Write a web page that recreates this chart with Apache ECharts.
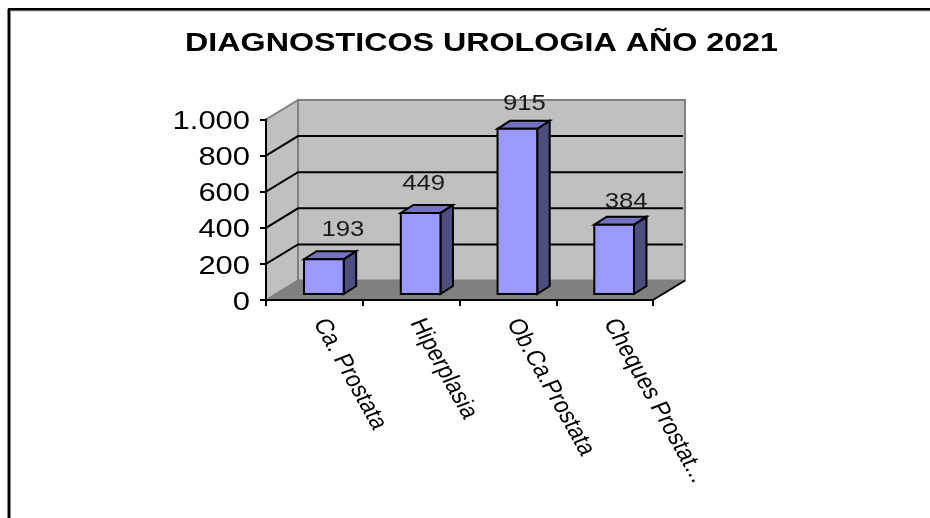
<!DOCTYPE html>
<html>
<head>
<meta charset="utf-8">
<title>Diagnosticos Urologia</title>
<style>
  html, body { margin: 0; padding: 0; background: #fff; }
  #chart-container { width: 930px; height: 518px; }
</style>
<script src="https://cdn.jsdelivr.net/npm/echarts@6/dist/echarts.min.js"></script>
</head>
<body>
<div id="chart-container"></div>
<script>
const chartTitle = 'DIAGNOSTICOS UROLOGIA AÑO 2021';
const categories = ['Ca. Prostata', 'Hiperplasia', 'Ob.Ca.Prostata', 'Cheques Prostat...'];
const values = [193, 449, 915, 384];
const gridValues = [200, 400, 600, 800];
const yTicks = [0, 200, 400, 600, 800, 1000];
const yTickLabels = ['0', '200', '400', '600', '800', '1.000'];

// fake 3d: pixel offsets from the front plane
const wallDepth = [32, -19.5];
const barShift = [9.5, -6];
const barDepth = [12.5, -8];
const labelShift = [[19, -29], [3, -29], [7, -25], [12, -23]];
const font = 'Liberation Sans, Arial, sans-serif';

function poly(points, fill, stroke, width) {
  return {
    type: 'polygon',
    shape: { points: points },
    style: { fill: fill, stroke: stroke, lineWidth: width, lineJoin: 'miter' }
  };
}

function off(p, d) {
  return [p[0] + d[0], p[1] + d[1]];
}

function renderWalls(params, api) {
  const x0 = params.coordSys.x;
  const x1 = x0 + params.coordSys.width;
  const bottom = api.coord([0, 0])[1];
  const top = api.coord([0, 1000])[1];
  const bl = [x0, bottom], tl = [x0, top], br = [x1, bottom];
  return {
    type: 'group',
    children: [
      poly([off(bl, wallDepth), off([x1, bottom], wallDepth), off([x1, top], wallDepth), off(tl, wallDepth)], '#c0c0c0', '#808080', 2),
      poly([bl, off(bl, wallDepth), off(tl, wallDepth), tl], '#c0c0c0', '#808080', 2),
      poly([bl, br, off(br, wallDepth), off(bl, wallDepth)], '#808080', '#808080', 1),
      { type: 'line', shape: { x1: br[0], y1: br[1], x2: br[0] + wallDepth[0], y2: br[1] + wallDepth[1] }, style: { stroke: '#000', lineWidth: 2 } }
    ]
  };
}

function renderGrid(params, api) {
  const x0 = params.coordSys.x;
  const x1 = x0 + params.coordSys.width;
  const y = api.coord([0, api.value(0)])[1];
  const back = off([x0, y], wallDepth);
  return {
    type: 'polyline',
    shape: { points: [[x0, y], back, [x1 + wallDepth[0] - 2, back[1]]] },
    style: { fill: 'none', stroke: '#000', lineWidth: 2 }
  };
}

function renderBar(params, api) {
  const i = api.value(0);
  const w = api.size([1, 0])[0] * 0.41;
  const base = off(api.coord([i, 0]), barShift);
  const topY = api.coord([i, api.value(1)])[1] + barShift[1];
  const fl = [base[0] - w / 2, topY];
  const fr = [base[0] + w / 2, topY];
  const rb = [base[0] + w / 2, base[1]];
  const lb = [base[0] - w / 2, base[1]];
  return {
    type: 'group',
    children: [
      poly([fr, rb, off(rb, barDepth), off(fr, barDepth)], '#4d4d80', '#000', 2),
      poly([fl, fr, off(fr, barDepth), off(fl, barDepth)], '#7373bf', '#000', 2),
      poly([fl, fr, rb, lb], '#9999ff', '#000', 2),
      {
        type: 'text',
        x: base[0] + labelShift[i][0],
        y: topY + labelShift[i][1],
        scaleX: 1.17,
        style: {
          text: String(api.value(1)),
          align: 'center',
          verticalAlign: 'middle',
          font: '22px ' + font,
          fill: '#1a1a1a'
        }
      }
    ]
  };
}

function renderYLabel(params, api) {
  const v = api.value(0);
  return {
    type: 'text',
    x: params.coordSys.x - 16,
    y: api.coord([0, v])[1] + 2.5,
    scaleX: 1.19,
    style: {
      text: yTickLabels[yTicks.indexOf(v)],
      align: 'right',
      verticalAlign: 'middle',
      font: '26px ' + font,
      fill: '#000'
    }
  };
}

// rotate inside a stretched group so the letters shear like the source
function renderXLabel(params, api) {
  const i = api.value(0);
  const p = api.coord([i, 0]);
  return {
    type: 'group',
    x: p[0] + 5,
    y: p[1] + 20,
    scaleX: 1.2,
    children: [{
      type: 'text',
      rotation: -65 * Math.PI / 180,
      style: {
        text: categories[i],
        align: 'left',
        verticalAlign: 'middle',
        font: '21.5px ' + font,
        fill: '#000'
      }
    }]
  };
}

const myChart = echarts.init(document.getElementById('chart-container'), null, { renderer: 'canvas' });
myChart.setOption({
  animation: false,
  backgroundColor: '#fff',
  grid: { left: 266, top: 119.5, width: 387, height: 180.5 },
  xAxis: {
    type: 'category',
    data: categories,
    z: 5,
    axisLine: { lineStyle: { color: '#000', width: 2 } },
    axisTick: { show: true, interval: 0, length: 6, lineStyle: { color: '#000', width: 2 } },
    axisLabel: { show: false, interval: 0 }
  },
  yAxis: {
    type: 'value',
    min: 0,
    max: 1000,
    interval: 200,
    z: 5,
    splitLine: { show: false },
    axisLine: { show: true, lineStyle: { color: '#000', width: 2 } },
    axisTick: { show: true, length: 6, lineStyle: { color: '#000', width: 2 } },
    axisLabel: { show: false }
  },
  graphic: [
    { type: 'line', shape: { x1: 9, y1: 518, x2: 9, y2: 9 }, style: { stroke: '#000', lineWidth: 3 } },
    { type: 'line', shape: { x1: 8, y1: 9.5, x2: 930, y2: 9.5 }, style: { stroke: '#000', lineWidth: 3 } },
    { type: 'line', shape: { x1: 10, y1: 11, x2: 930, y2: 11 }, style: { stroke: '#bbb', lineWidth: 1 } },
    {
      type: 'text',
      x: 481.5,
      y: 44,
      scaleX: 1.24,
      style: { text: chartTitle, align: 'center', verticalAlign: 'middle', font: 'bold 26px ' + font, fill: '#000' }
    }
  ],
  series: [
    { type: 'custom', z: 1, coordinateSystem: 'cartesian2d', data: [[0]], renderItem: renderWalls, silent: true },
    { type: 'custom', z: 2, coordinateSystem: 'cartesian2d', data: gridValues.map(function (v) { return [v]; }), renderItem: renderGrid, silent: true, encode: { y: 0 } },
    { type: 'custom', z: 3, coordinateSystem: 'cartesian2d', data: values.map(function (v, i) { return [i, v]; }), renderItem: renderBar, encode: { x: 0, y: 1 } },
    { type: 'custom', z: 6, coordinateSystem: 'cartesian2d', data: yTicks.map(function (v) { return [v]; }), renderItem: renderYLabel, silent: true, clip: false, encode: { y: 0 } },
    { type: 'custom', z: 6, coordinateSystem: 'cartesian2d', data: categories.map(function (c, i) { return [i]; }), renderItem: renderXLabel, silent: true, clip: false, encode: { x: 0 } }
  ]
});
</script>
</body>
</html>
